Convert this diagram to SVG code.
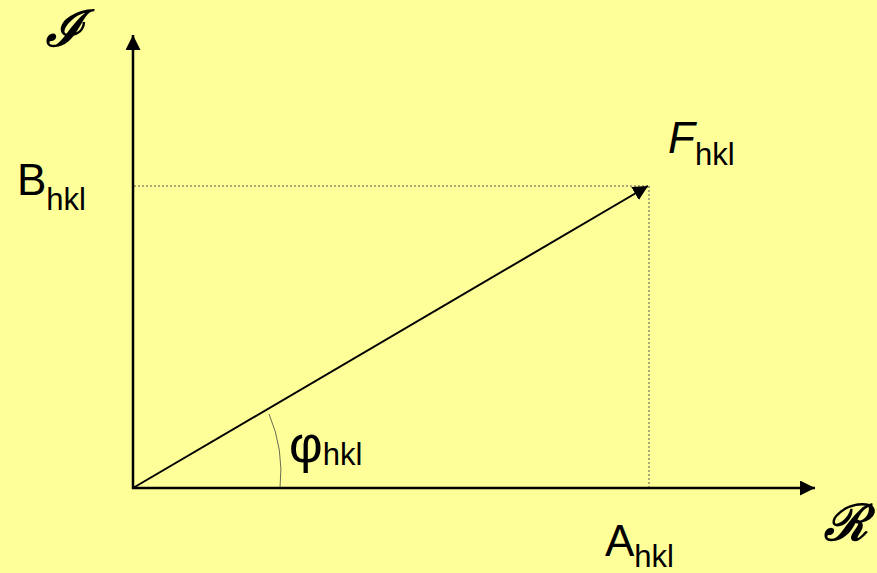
<svg xmlns="http://www.w3.org/2000/svg" width="877" height="573" viewBox="0 0 877 573">
<defs>
<style>
.lbl{font-family:"Liberation Sans",Arial,sans-serif;fill:#000}
.big{font-size:44px}
.sub{font-size:31px}
.axis{stroke:#000;stroke-width:2.5;fill:none}
.dot{stroke:#555;stroke-width:1;stroke-dasharray:2 2;fill:none}
.scr{font-family:"DejaVu Serif","Liberation Serif",serif;font-style:italic;font-weight:bold;font-size:50px;fill:#000}
</style>
<marker id="ah2" viewBox="0 0 10 10" refX="10" refY="5" markerWidth="6" markerHeight="6" orient="auto">
<path d="M0,0 L10,5 L0,10 z" fill="#000"/>
</marker>
<marker id="ah3" viewBox="0 0 10 10" refX="10" refY="5" markerWidth="7.5" markerHeight="7.5" orient="auto">
<path d="M0,0 L10,5 L0,10 z" fill="#000"/>
</marker>
</defs>
<rect width="877" height="573" fill="#FFFF99"/>
<g id="connectors">
<line class="dot" x1="134" y1="186" x2="648" y2="186"/>
<line class="dot" x1="649" y1="186" x2="649" y2="487"/>
<path d="M280,488 A147,147 0 0 0 269,414" stroke="#444" stroke-width="0.8" fill="none"/>
<line class="axis" x1="133" y1="489" x2="133" y2="35" marker-end="url(#ah2)"/>
<line class="axis" x1="132" y1="488" x2="815" y2="488" marker-end="url(#ah2)"/>
<line stroke="#000" stroke-width="2" x1="133" y1="488" x2="648" y2="186" marker-end="url(#ah3)"/>
</g>
<g id="axis-I"><text class="scr" x="46" y="46">ℐ</text></g>
<g id="axis-R"><text class="scr" x="824" y="540">ℛ</text></g>
<g id="B"><text class="lbl" x="17" y="195"><tspan class="big">B</tspan><tspan class="sub" dy="15">hkl</tspan></text></g>
<g id="F"><text class="lbl" x="668" y="153"><tspan class="big" font-style="italic">F</tspan><tspan class="sub" dy="12">hkl</tspan></text></g>
<g id="phi"><text class="lbl" x="289" y="462"><tspan font-size="52px">φ</tspan><tspan class="sub" dy="3">hkl</tspan></text></g>
<g id="A"><text class="lbl" x="605" y="556"><tspan class="big">A</tspan><tspan class="sub" dy="11">hkl</tspan></text></g>
</svg>
